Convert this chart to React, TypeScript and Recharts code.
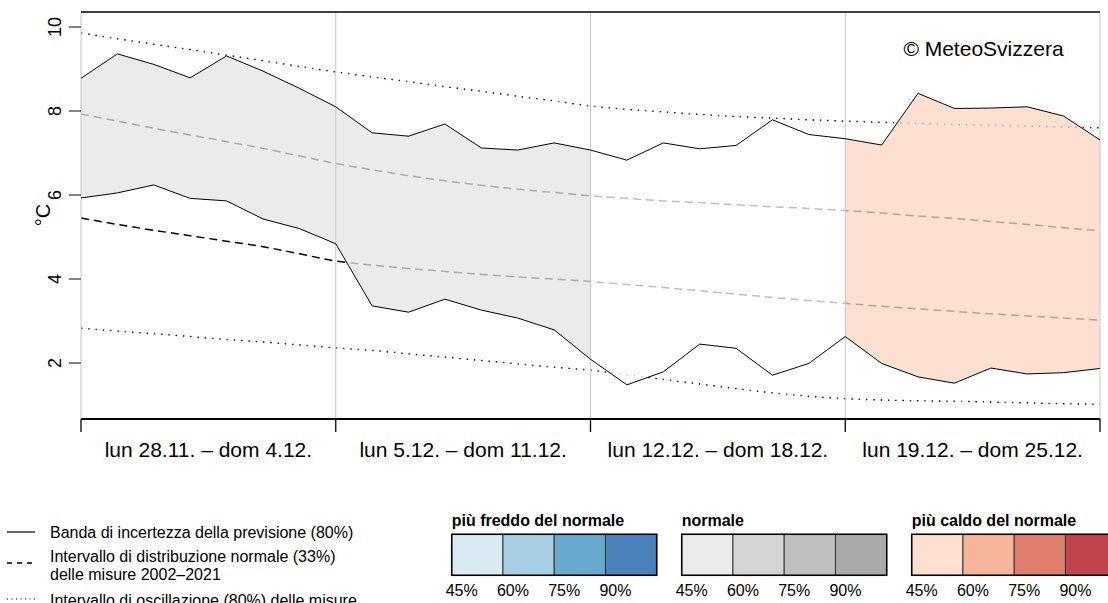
import React from "react";
import { ComposedChart, Line, Area, XAxis, YAxis, ReferenceLine } from "recharts";

// ---- data ----
const days = [0, 1, 2, 3, 4, 5, 6, 7, 8, 9, 10, 11, 12, 13, 14, 15, 16, 17, 18, 19, 20, 21, 22, 23, 24, 25, 26, 27, 28];
const forecastUpper = [8.78, 9.36, 9.11, 8.79, 9.31, 8.95, 8.54, 8.10, 7.48, 7.40, 7.69, 7.12, 7.07, 7.24, 7.07, 6.83, 7.24, 7.10, 7.18, 7.79, 7.44, 7.34, 7.19, 8.42, 8.06, 8.07, 8.10, 7.88, 7.31];
const forecastLower = [5.93, 6.05, 6.24, 5.92, 5.86, 5.43, 5.20, 4.84, 3.36, 3.21, 3.52, 3.26, 3.07, 2.79, 2.09, 1.48, 1.79, 2.45, 2.35, 1.71, 1.99, 2.63, 1.99, 1.67, 1.52, 1.88, 1.74, 1.77, 1.87];
const clim80Upper = [9.86, 9.72, 9.59, 9.46, 9.33, 9.20, 9.06, 8.93, 8.81, 8.70, 8.58, 8.47, 8.35, 8.24, 8.12, 8.04, 7.98, 7.92, 7.87, 7.83, 7.79, 7.76, 7.73, 7.71, 7.68, 7.66, 7.64, 7.62, 7.60];
const clim33Upper = [7.93, 7.76, 7.59, 7.43, 7.27, 7.11, 6.93, 6.75, 6.60, 6.46, 6.34, 6.23, 6.14, 6.06, 5.98, 5.92, 5.86, 5.82, 5.77, 5.72, 5.68, 5.63, 5.57, 5.50, 5.44, 5.37, 5.30, 5.22, 5.15];
const clim33Lower = [5.45, 5.30, 5.16, 5.03, 4.90, 4.77, 4.60, 4.43, 4.33, 4.25, 4.18, 4.11, 4.05, 4.00, 3.94, 3.87, 3.80, 3.72, 3.64, 3.56, 3.49, 3.42, 3.35, 3.29, 3.23, 3.17, 3.12, 3.07, 3.02];
const clim80Lower = [2.83, 2.76, 2.70, 2.63, 2.56, 2.50, 2.43, 2.36, 2.30, 2.22, 2.14, 2.06, 1.98, 1.90, 1.83, 1.72, 1.61, 1.50, 1.39, 1.29, 1.21, 1.15, 1.12, 1.10, 1.09, 1.07, 1.05, 1.03, 1.02];

const weekLabels = ["lun 28.11. – dom 4.12.", "lun 5.12. – dom 11.12.", "lun 12.12. – dom 18.12.", "lun 19.12. – dom 25.12."];
const weekBounds = [0, 7, 14, 21, 28];
const weekCategory = ["normal", "normal", "none", "warm"];
const yTicks = [2, 4, 6, 8, 10];
const yDomain = [0.667, 10.357];

const legendLines = [
  ["Banda di incertezza della previsione (80%)"],
  ["Intervallo di distribuzione normale (33%)", "delle misure 2002–2021"],
  ["Intervallo di oscillazione (80%) delle misure"],
];
const scaleTitles = ["più freddo del normale", "normale", "più caldo del normale"];
const scaleLevels = ["45%", "60%", "75%", "90%"];

// ---- styles ----
const FONT = "'Liberation Sans', Arial, Helvetica, sans-serif";
const scaleColors = [
  ["#d9eaf3", "#a7cfe4", "#67a9cf", "#4c82bc"],
  ["#ebebeb", "#d5d5d5", "#bfbfbf", "#aaaaaa"],
  ["#fde0d2", "#f6b598", "#e07e6e", "#c2444f"],
];
// fill colours drawn with opacity so lines underneath look lighter
const categoryFill: Record<string, string> = { normal: "#e4e4e4", none: "#ffffff", warm: "#fcd6c1" };

const data = days.map((d, i) => {
  const row: any = {
    day: d,
    upper: forecastUpper[i],
    lower: forecastLower[i],
    c80u: clim80Upper[i],
    c33u: clim33Upper[i],
    c33l: clim33Lower[i],
    c80l: clim80Lower[i],
  };
  weekLabels.forEach((_, w) => {
    row["band" + w] = d >= weekBounds[w] && d <= weekBounds[w + 1] ? [forecastLower[i], forecastUpper[i]] : null;
  });
  return row;
});

const xTickValues: number[] = [];
weekBounds.forEach((b, i) => {
  xTickValues.push(b);
  if (i < weekBounds.length - 1) xTickValues.push((b + weekBounds[i + 1]) / 2);
});

const XTick = (props: any) => {
  const { x, y, payload } = props;
  const v = payload.value;
  if (weekBounds.includes(v)) {
    return <line x1={x} x2={x} y1={y} y2={y + 13} stroke="#000" strokeWidth={1.3} />;
  }
  const idx = Math.floor(v / 7);
  return (
    <text x={x} y={y + 38} textAnchor="middle" fontSize={21} fontFamily={FONT} fill="#000">
      {weekLabels[idx]}
    </text>
  );
};

const YTick = (props: any) => {
  const { x, y, payload } = props;
  return (
    <g>
      <line x1={x} x2={x + 12} y1={y} y2={y} stroke="#333" strokeWidth={1.2} />
      <text
        x={x - 8}
        y={y}
        transform={`rotate(-90 ${x - 8} ${y})`}
        textAnchor="middle"
        fontSize={18}
        fontFamily={FONT}
        fill="#000"
      >
        {payload.value}
      </text>
    </g>
  );
};

const Overlay = () => {
  const groupLeft = 451.7;
  const groupStep = 230;
  const boxW = 51.25;
  return (
    <svg
      width={1108}
      height={603}
      style={{ position: "absolute", left: 0, top: 0, pointerEvents: "none" }}
      fontFamily={FONT}
    >
      <text x={50} y={215} transform="rotate(-90 50 215)" textAnchor="middle" fontSize={20} fill="#000">
        °C
      </text>
      <text x={983.5} y={56} textAnchor="middle" fontSize={21} fill="#000">
        © MeteoSvizzera
      </text>
      {/* line legend */}
      <line x1={7} x2={35} y1={532} y2={532} stroke="#000" strokeWidth={1.2} />
      <line x1={7} x2={35} y1={563} y2={563} stroke="#000" strokeWidth={1.5} strokeDasharray="5 5" />
      <line x1={7} x2={35} y1={599} y2={599} stroke="#000" strokeWidth={1.2} strokeDasharray="1 3.5" />
      <text x={50} y={537.5} fontSize={16} fill="#000">{legendLines[0][0]}</text>
      <text x={50} y={561.5} fontSize={16} fill="#000">{legendLines[1][0]}</text>
      <text x={50} y={579.5} fontSize={16} fill="#000">{legendLines[1][1]}</text>
      <text x={50} y={605.5} fontSize={16} fill="#000">{legendLines[2][0]}</text>
      {/* colour scales */}
      {scaleTitles.map((t, g) => {
        const left = groupLeft + g * groupStep;
        return (
          <g key={t}>
            <text x={left} y={526} fontSize={16} fontWeight="bold" fill="#000">{t}</text>
            {scaleLevels.map((lv, i) => (
              <g key={lv}>
                <rect x={left + i * boxW} y={534.3} width={boxW} height={41} fill={scaleColors[g][i]} stroke="#333" strokeWidth={1} />
                <text x={left + i * boxW - 6} y={595.7} fontSize={16} fill="#000">{lv}</text>
              </g>
            ))}
            <rect x={left} y={534.3} width={boxW * 4} height={41} fill="none" stroke="#000" strokeWidth={1.5} />
          </g>
        );
      })}
    </svg>
  );
};

export default function App() {
  return (
    <div style={{ position: "absolute", left: 0, top: 0, width: 1108, height: 603, background: "#fff" }}>
      <ComposedChart width={1108} height={475} data={data} margin={{ top: 12, right: 8, left: 0, bottom: 25 }}>
        <XAxis
          dataKey="day"
          type="number"
          domain={[0, 28]}
          ticks={xTickValues}
          interval={0}
          tickSize={0}
          tickMargin={0}
          tickLine={false}
          axisLine={{ stroke: "#000", strokeWidth: 2 }}
          tick={XTick}
          height={31}
          allowDataOverflow
        />
        <YAxis
          type="number"
          domain={yDomain}
          ticks={yTicks}
          interval={0}
          width={81}
          tickSize={12}
          tickMargin={0}
          tickLine={false}
          axisLine={false}
          tick={YTick}
          allowDataOverflow
        />
        {/* climatology lines (drawn beneath the forecast bands) */}
        <Line dataKey="c80u" type="monotone" stroke="#000" strokeWidth={1.4} strokeDasharray="1.4 5.9" dot={false} activeDot={false} isAnimationActive={false} zIndex={50} />
        <Line dataKey="c33u" type="monotone" stroke="#000" strokeWidth={1.5} strokeDasharray="8 5" dot={false} activeDot={false} isAnimationActive={false} zIndex={50} />
        <Line dataKey="c33l" type="monotone" stroke="#000" strokeWidth={1.5} strokeDasharray="8 5" dot={false} activeDot={false} isAnimationActive={false} zIndex={50} />
        <Line dataKey="c80l" type="monotone" stroke="#000" strokeWidth={1.4} strokeDasharray="1.4 5.9" dot={false} activeDot={false} isAnimationActive={false} zIndex={50} />
        {/* weekly forecast bands */}
        {weekCategory.map((c, w) => (
          <Area
            key={"band" + w}
            dataKey={"band" + w}
            type="linear"
            fill={categoryFill[c]}
            fillOpacity={0.75}
            stroke="none"
            dot={false}
            activeDot={false}
            connectNulls={false}
            isAnimationActive={false}
            zIndex={100}
          />
        ))}
        {weekBounds.map((b) => (
          <ReferenceLine key={"v" + b} x={b} stroke="#c8c8c8" strokeWidth={1} zIndex={300} />
        ))}
        <ReferenceLine y={yDomain[1]} stroke="#000" strokeWidth={1.5} zIndex={300} />
        {/* forecast uncertainty band limits */}
        <Line dataKey="upper" type="linear" stroke="#000" strokeWidth={1} dot={false} activeDot={false} isAnimationActive={false} zIndex={400} />
        <Line dataKey="lower" type="linear" stroke="#000" strokeWidth={1} dot={false} activeDot={false} isAnimationActive={false} zIndex={400} />
      </ComposedChart>
      <Overlay />
    </div>
  );
}
